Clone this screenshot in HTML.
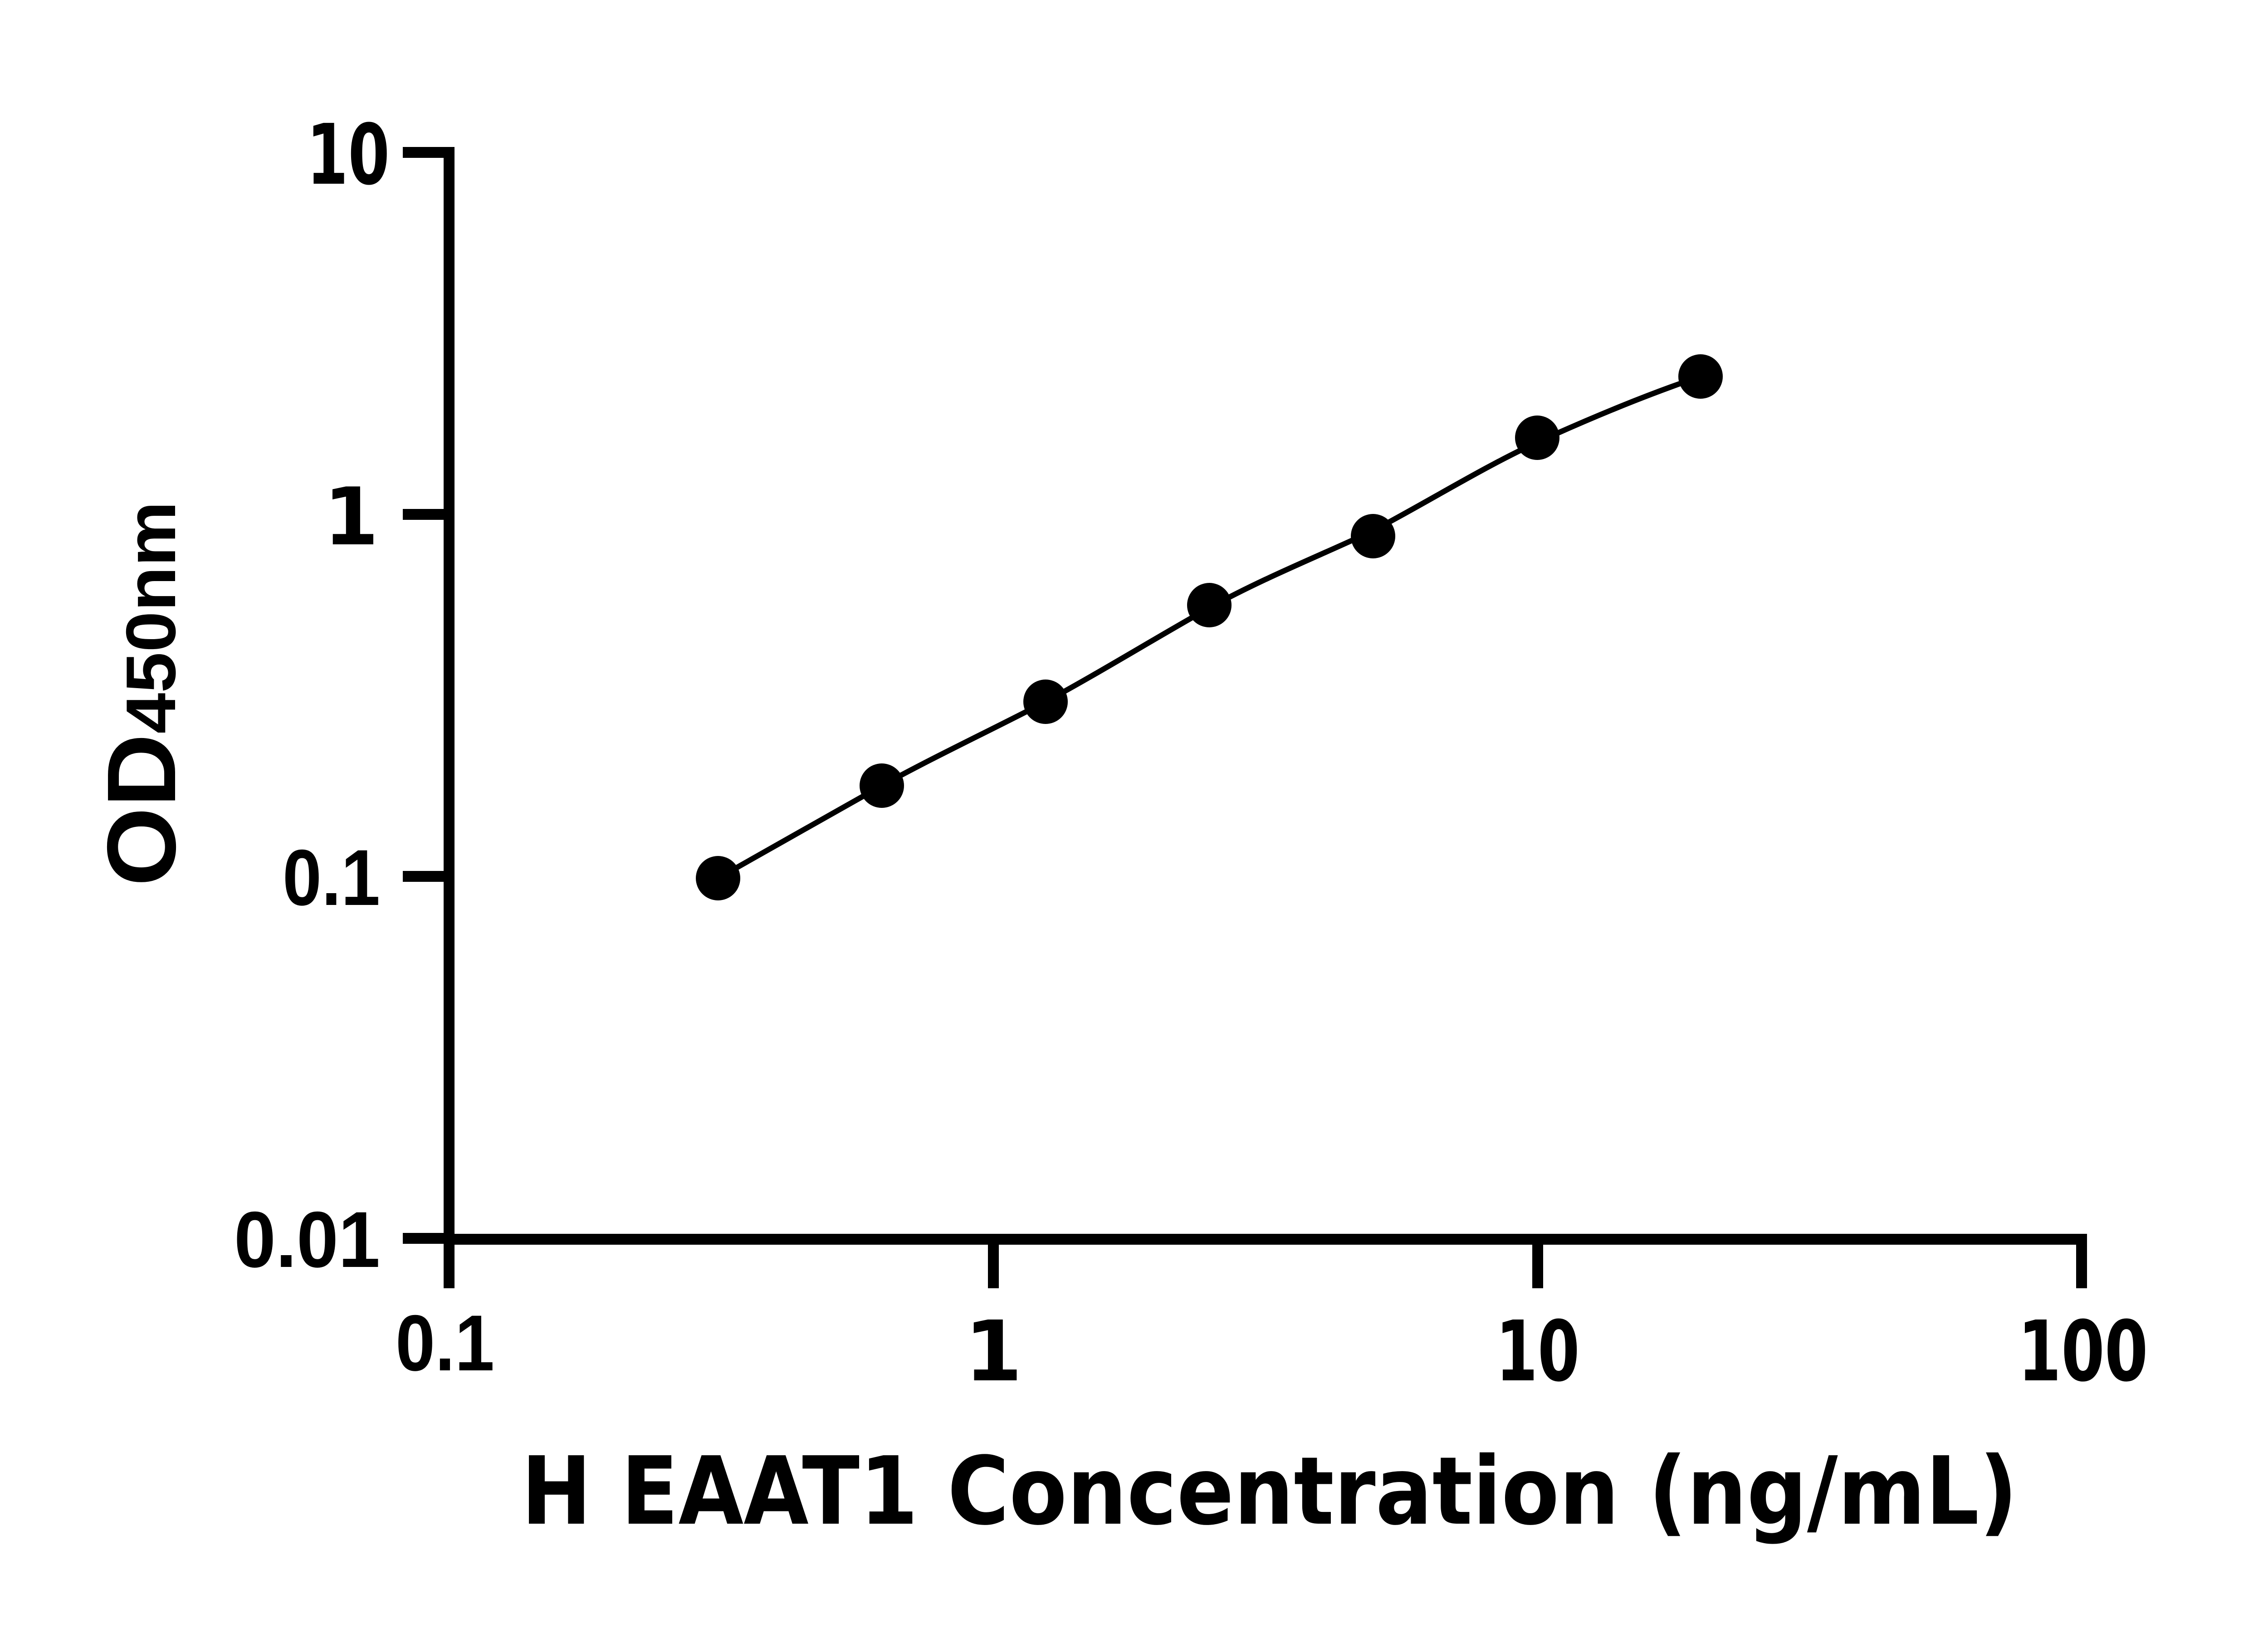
<!DOCTYPE html>
<html><head><meta charset="utf-8"><style>html,body{margin:0;padding:0;background:#fff}svg{display:block}</style></head>
<body>
<svg width="5142" height="3600" viewBox="0 0 5142 3600" xmlns="http://www.w3.org/2000/svg">
<rect width="5142" height="3600" fill="#fff"/>
<g stroke="#000" fill="none">
<line x1="990" y1="324" x2="990" y2="2840" stroke-width="24"/>
<line x1="978" y1="2732" x2="4601" y2="2732" stroke-width="24"/>
<line x1="888" y1="336" x2="990" y2="336" stroke-width="24"/>
<line x1="888" y1="1134" x2="990" y2="1134" stroke-width="24"/>
<line x1="888" y1="1932" x2="990" y2="1932" stroke-width="24"/>
<line x1="888" y1="2730" x2="990" y2="2730" stroke-width="24"/>
<line x1="2190" y1="2732" x2="2190" y2="2840" stroke-width="24"/>
<line x1="3390" y1="2732" x2="3390" y2="2840" stroke-width="24"/>
<line x1="4589" y1="2720" x2="4589" y2="2840" stroke-width="24"/>
<path d="M1583,1936 C1700,1870 1830,1796 1944,1732 C2060,1668 2190,1607 2305,1547 C2420,1485 2550,1405 2666,1340 C2790,1272 2910,1225 3027,1170 C3150,1105 3270,1030 3389,975 C3510,920 3630,870 3749,830" stroke-width="12"/>
</g>
<g fill="#000">
<ellipse cx="1583" cy="1936" rx="49" ry="49"/>
<ellipse cx="1944" cy="1732" rx="49" ry="49"/>
<ellipse cx="2305" cy="1547" rx="49" ry="49"/>
<ellipse cx="2666" cy="1334" rx="49" ry="49"/>
<ellipse cx="3027" cy="1182" rx="49" ry="49"/>
<ellipse cx="3389" cy="965" rx="49" ry="49"/>
<ellipse cx="3749" cy="830" rx="49" ry="49"/>
</g>
<g fill="#000" font-weight="bold">
<text x="859" y="405" text-anchor="end" font-family="DejaVu Sans, sans-serif" font-size="184" textLength="183" lengthAdjust="spacingAndGlyphs">10</text>
<text x="835" y="1200" text-anchor="end" font-family="DejaVu Sans, sans-serif" font-size="175">1</text>
<text x="838" y="1995" text-anchor="end" font-family="Liberation Sans, sans-serif" font-size="175" textLength="215" lengthAdjust="spacingAndGlyphs">0.1</text>
<text x="838" y="2793" text-anchor="end" font-family="Liberation Sans, sans-serif" font-size="175" textLength="322" lengthAdjust="spacingAndGlyphs">0.01</text>
<text x="981" y="3021" text-anchor="middle" font-family="Liberation Sans, sans-serif" font-size="175" textLength="218" lengthAdjust="spacingAndGlyphs">0.1</text>
<text x="2190" y="3043" text-anchor="middle" font-family="DejaVu Sans, sans-serif" font-size="184">1</text>
<text x="3390" y="3043" text-anchor="middle" font-family="DejaVu Sans, sans-serif" font-size="184" textLength="185" lengthAdjust="spacingAndGlyphs">10</text>
<text x="4592" y="3043" text-anchor="middle" font-family="DejaVu Sans, sans-serif" font-size="184" textLength="287" lengthAdjust="spacingAndGlyphs">100</text>
<text x="1149" y="3359" font-family="DejaVu Sans, Liberation Sans, sans-serif" font-size="207" textLength="3299" lengthAdjust="spacingAndGlyphs">H EAAT1 Concentration (ng/mL)</text>
<text transform="translate(386,1954) rotate(-90)" font-family="Liberation Sans, sans-serif" textLength="849" lengthAdjust="spacingAndGlyphs"><tspan font-size="215">OD</tspan><tspan font-size="155">450nm</tspan></text>
</g>
</svg>
</body></html>
